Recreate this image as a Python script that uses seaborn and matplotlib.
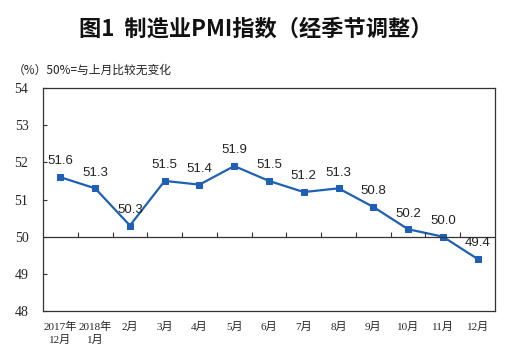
import numpy as np
import pandas as pd
import seaborn as sns
import matplotlib.pyplot as plt

# %%
months = ["2017年\n12月", "2018年\n1月", "2月", "3月", "4月", "5月", "6月",
          "7月", "8月", "9月", "10月", "11月", "12月"]
pmi = [51.6, 51.3, 50.3, 51.5, 51.4, 51.9, 51.5, 51.2, 51.3, 50.8, 50.2, 50.0, 49.4]
yticks = [48, 49, 50, 51, 52, 53, 54]

df = pd.DataFrame({"pos": np.arange(len(months)), "pmi": pmi})

sns.set_style("white")
plt.rcParams["font.family"] = ["Liberation Serif", "Noto Sans CJK SC"]

blue = "#1f5fb4"
serif_cjk = ["Liberation Serif", "Noto Sans CJK SC"]

# %%
fig = plt.figure(figsize=(5.26, 3.54), dpi=100)
ax = fig.add_axes([43 / 526, 1 - 311 / 354, 452 / 526, 223 / 354])

sns.lineplot(
    data=df, x="pos", y="pmi", ax=ax, color=blue, linewidth=1.6,
    marker="s", markersize=4.5, markeredgecolor=blue, markerfacecolor=blue,
)

for x, v in zip(df["pos"], df["pmi"]):
    ax.annotate(f"{v:.1f}", (x, v), xytext=(0, 7), textcoords="offset points",
                ha="center", va="bottom", fontsize=9.5, family="Liberation Sans",
                color="#222222")

# 50 reference line with category ticks
ax.axhline(50, color="#333333", linewidth=0.9)
bounds = np.arange(0.5, len(months) - 1, 1)
ax.vlines(bounds, 50, 50.12, color="#333333", linewidth=0.8)

ax.set_xlim(-0.5, len(months) - 0.5)
ax.set_ylim(48, 54)
ax.set_yticks(yticks)
ax.set_yticklabels([str(t) for t in yticks], fontsize=10, family=serif_cjk)
ax.set_xticks(df["pos"])
ax.set_xticklabels(months, fontsize=8, family=serif_cjk, linespacing=1.3, va="top")
ax.tick_params(axis="x", length=0, pad=8)
ax.tick_params(axis="y", direction="in", length=3, width=0.8, color="#333333",
               pad=10.5, left=True)
ax.set_xlabel("")
ax.set_ylabel("")
for s in ax.spines.values():
    s.set_color("#333333")
    s.set_linewidth(0.9)

fig.text(256 / 526, 1 - 29 / 354, "图1  制造业PMI指数（经季节调整）", ha="center",
         va="center", fontsize=16, fontweight="bold",
         family=["Noto Sans CJK SC", "DejaVu Sans"], color="#111111")
fig.text(13 / 526, 1 - 70 / 354, "（%）50%=与上月比较无变化", ha="left",
         va="center", fontsize=8.5, family=["Noto Sans CJK SC", "DejaVu Sans"],
         color="#222222")

plt.savefig("out.png", dpi=100)
